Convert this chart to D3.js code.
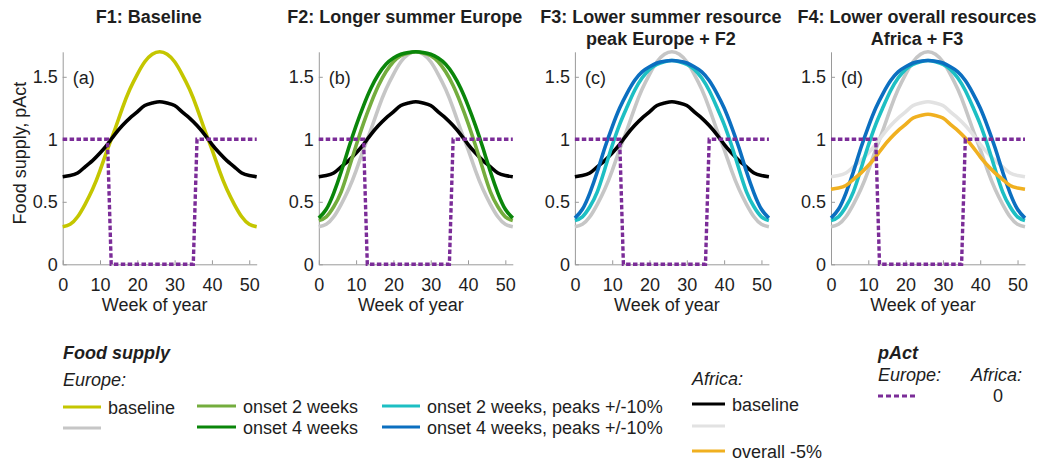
<!DOCTYPE html>
<html>
<head>
<meta charset="utf-8">
<script src="https://cdn.jsdelivr.net/npm/d3@7"></script>
<style>
  body { margin: 0; background: #fff; }
  text { font-family: "Liberation Sans", Arial, sans-serif; fill: #1e1e1e; }
</style>
</head>
<body>
<svg id="chart" width="1041" height="461"></svg>
<script>
// weeks sampled every 2 weeks
const weeks = [0,2,4,6,8,10,12,14,16,18,20,22,24,26,28,30,32,34,36,38,40,42,44,46,48,50,52];

const europeBaseline = [0.30,0.32,0.38,0.48,0.60,0.75,0.92,1.08,1.25,1.40,1.52,1.62,1.68,1.70,1.68,1.62,1.52,1.40,1.25,1.08,0.92,0.75,0.60,0.48,0.38,0.32,0.30];
const africaBaseline = [0.70,0.71,0.73,0.78,0.83,0.89,0.96,1.04,1.11,1.17,1.22,1.27,1.29,1.30,1.29,1.27,1.22,1.17,1.11,1.04,0.96,0.89,0.83,0.78,0.73,0.71,0.70];
const onset2 = [0.35,0.38,0.46,0.58,0.76,0.95,1.13,1.29,1.43,1.54,1.62,1.67,1.69,1.70,1.69,1.67,1.62,1.54,1.43,1.29,1.13,0.95,0.76,0.58,0.46,0.38,0.35];
const onset4 = [0.37,0.44,0.57,0.74,0.93,1.11,1.27,1.41,1.52,1.60,1.65,1.68,1.695,1.70,1.695,1.68,1.65,1.60,1.52,1.41,1.27,1.11,0.93,0.74,0.57,0.44,0.37];
const onset2Peaks = [0.35,0.38,0.46,0.58,0.76,0.95,1.12,1.26,1.39,1.49,1.56,1.60,1.62,1.63,1.62,1.60,1.56,1.49,1.39,1.26,1.12,0.95,0.76,0.58,0.46,0.38,0.35];
const onset4Peaks = [0.37,0.44,0.57,0.74,0.93,1.10,1.25,1.37,1.47,1.54,1.58,1.61,1.625,1.63,1.625,1.61,1.58,1.54,1.47,1.37,1.25,1.10,0.93,0.74,0.57,0.44,0.37];
const africaMinus5 = [0.60,0.61,0.63,0.68,0.73,0.79,0.86,0.94,1.01,1.07,1.12,1.17,1.19,1.20,1.19,1.17,1.12,1.07,1.01,0.94,0.86,0.79,0.73,0.68,0.63,0.61,0.60];

// pAct Europe (step)
const pActWeeks = [0,12,13,35,36,52];
const pActEurope = [1,1,0,0,1,1];

const xTicks = [0,10,20,30,40,50];
const yTicks = [0,0.5,1,1.5];

const panelTitles = [
  ["F1: Baseline"],
  ["F2: Longer summer Europe"],
  ["F3: Lower summer resource", "peak Europe + F2"],
  ["F4: Lower overall resources", "Africa + F3"]
];
const panelTags = ["(a)","(b)","(c)","(d)"];

const col = {
  yellow: "#c4c600",
  gray: "#c6c6c6",
  lightgray: "#e2e2e2",
  black: "#000000",
  lightgreen: "#74ad3e",
  darkgreen: "#0a860a",
  cyan: "#1dbfc3",
  blue: "#0b6fc0",
  orange: "#f0b020",
  purple: "#7b2c98"
};

const panelLines = [
  [[europeBaseline, col.yellow], [africaBaseline, col.black]],
  [[europeBaseline, col.gray], [africaBaseline, col.black], [onset2, col.lightgreen], [onset4, col.darkgreen]],
  [[europeBaseline, col.gray], [africaBaseline, col.black], [onset2Peaks, col.cyan], [onset4Peaks, col.blue]],
  [[europeBaseline, col.gray], [africaBaseline, col.lightgray], [onset2Peaks, col.cyan], [onset4Peaks, col.blue], [africaMinus5, col.orange]]
];

const svg = d3.select("#chart");
const y = d3.scaleLinear().domain([0, 1.7]).range([264.3, 51.8]);

panelTitles.forEach((title, i) => {
  const x0 = 62.7 + i * 256.1;
  const x = d3.scaleLinear().domain([0, 52]).range([x0, x0 + 194]);
  const g = svg.append("g");

  const xa = g.append("g")
    .attr("transform", `translate(0,${y(0)})`)
    .call(d3.axisBottom(x).tickValues(xTicks).tickSizeInner(-4).tickSizeOuter(0).tickPadding(14));
  const ya = g.append("g")
    .attr("transform", `translate(${x0},0)`)
    .call(d3.axisLeft(y).tickValues(yTicks).tickFormat(d => String(d)).tickSizeInner(-4).tickSizeOuter(0).tickPadding(5));
  [xa, ya].forEach(a => {
    a.attr("font-size", null).attr("font-family", null);
    a.select(".domain").attr("stroke", "#9a9a9a");
    a.selectAll(".tick line").attr("stroke", "#9a9a9a");
    a.selectAll(".tick text").style("font-size", "18px").attr("fill", "#1e1e1e");
  });

  const line = d3.line()
    .x((d, j) => x(weeks[j]))
    .y(d => y(d))
    .curve(d3.curveNatural);

  panelLines[i].forEach(([vals, c]) => {
    g.append("path").attr("d", line(vals))
      .attr("fill", "none").attr("stroke", c).attr("stroke-width", 3.6);
  });

  const stepLine = d3.line()
    .x((d, j) => x(pActWeeks[j]))
    .y(d => y(d));
  g.append("path").attr("d", stepLine(pActEurope))
    .attr("fill", "none").attr("stroke", col.purple)
    .attr("stroke-width", 3.4).attr("stroke-dasharray", "4.5,2.4");

  title.forEach((t, k) => {
    g.append("text").attr("x", x0 + 86).attr("y", 23 + k * 21.6)
      .attr("text-anchor", "middle").style("font-size", "18px").style("font-weight", "bold")
      .text(t);
  });
  g.append("text").attr("x", x0 + 10).attr("y", 84).style("font-size", "18px").text(panelTags[i]);
  g.append("text").attr("x", x0 + 92).attr("y", 311)
    .attr("text-anchor", "middle").style("font-size", "18px").text("Week of year");
});

svg.append("text")
  .attr("transform", "translate(26,153) rotate(-90)")
  .attr("text-anchor", "middle").style("font-size", "18px")
  .text("Food supply, pAct");

// legend
const legendHeads = [
  { text: "Food supply", x: 63, y: 359, bold: true },
  { text: "Europe:", x: 63, y: 386 },
  { text: "Africa:", x: 692, y: 385 },
  { text: "pAct", x: 878, y: 359, bold: true },
  { text: "Europe:", x: 878, y: 381 },
  { text: "Africa:", x: 971, y: 381 }
];
legendHeads.forEach(h => {
  svg.append("text").attr("x", h.x).attr("y", h.y)
    .style("font-size", "18px").style("font-style", "italic")
    .style("font-weight", h.bold ? "bold" : "normal").text(h.text);
});

const legendItems = [
  { label: "baseline", color: col.yellow, x: 63, w: 38, y: 407 },
  { label: "", color: col.gray, x: 63, w: 38, y: 428 },
  { label: "onset 2 weeks", color: col.lightgreen, x: 197, w: 39, y: 406 },
  { label: "onset 4 weeks", color: col.darkgreen, x: 197, w: 39, y: 427 },
  { label: "onset 2 weeks, peaks +/-10%", color: col.cyan, x: 382, w: 38, y: 406 },
  { label: "onset 4 weeks, peaks +/-10%", color: col.blue, x: 382, w: 38, y: 427 },
  { label: "baseline", color: col.black, x: 692, w: 33, y: 404 },
  { label: "", color: col.lightgray, x: 692, w: 33, y: 426 },
  { label: "overall -5%", color: col.orange, x: 692, w: 33, y: 451 }
];
legendItems.forEach(d => {
  svg.append("line").attr("x1", d.x).attr("x2", d.x + d.w).attr("y1", d.y).attr("y2", d.y)
    .attr("stroke", d.color).attr("stroke-width", 3);
  if (d.label) {
    svg.append("text").attr("x", d.x + d.w + 7).attr("y", d.y + 6.5)
      .style("font-size", "18px").text(d.label);
  }
});
svg.append("line").attr("x1", 878).attr("x2", 918).attr("y1", 396).attr("y2", 396)
  .attr("stroke", col.purple).attr("stroke-width", 3).attr("stroke-dasharray", "5,3");
svg.append("text").attr("x", 998).attr("y", 402).attr("text-anchor", "middle")
  .style("font-size", "18px").text("0");
</script>
</body>
</html>
